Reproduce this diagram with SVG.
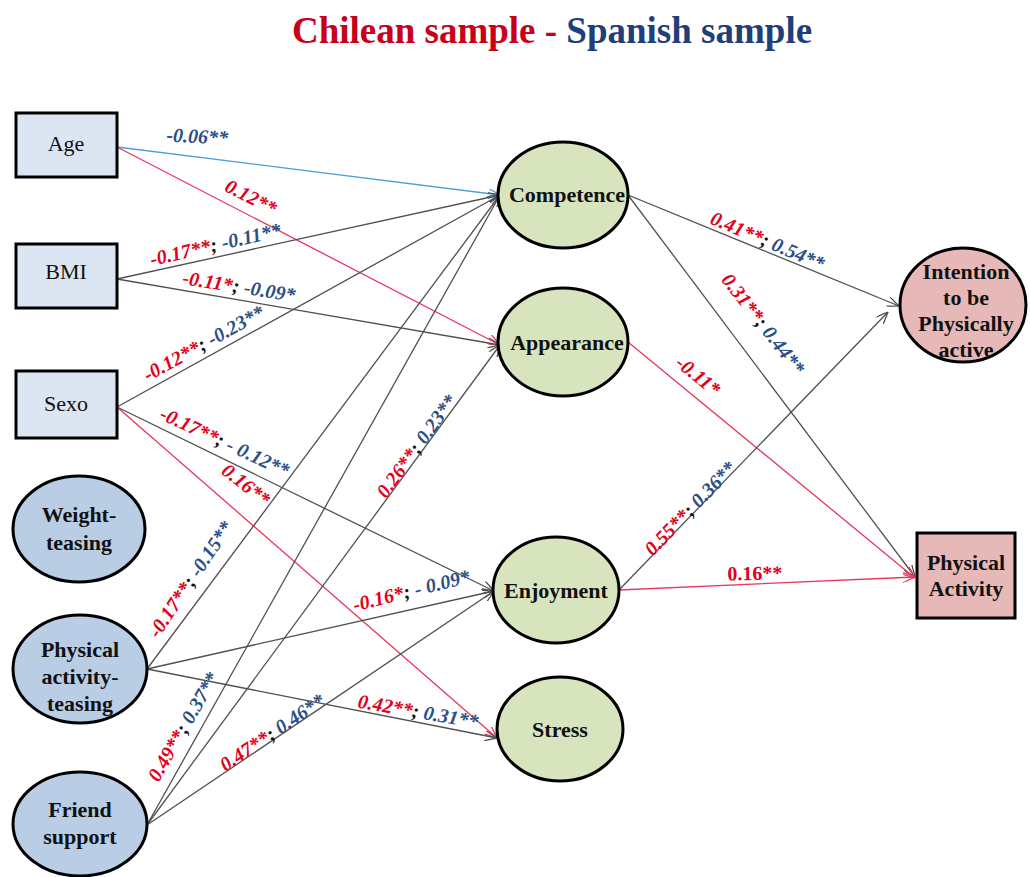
<svg xmlns="http://www.w3.org/2000/svg" width="1030" height="877" viewBox="0 0 1030 877">
<defs>
<marker id="ag" viewBox="0 0 12 10" refX="12" refY="5" markerWidth="12" markerHeight="10" markerUnits="userSpaceOnUse" orient="auto"><path d="M0,0 L12,5 L0,10" fill="none" stroke="#505050" stroke-width="1.3"/></marker>
<marker id="ar" viewBox="0 0 12 10" refX="12" refY="5" markerWidth="12" markerHeight="10" markerUnits="userSpaceOnUse" orient="auto"><path d="M0,0 L12,5 L0,10" fill="none" stroke="#e8365d" stroke-width="1.3"/></marker>
<marker id="ab" viewBox="0 0 12 10" refX="12" refY="5" markerWidth="12" markerHeight="10" markerUnits="userSpaceOnUse" orient="auto"><path d="M0,0 L12,5 L0,10" fill="none" stroke="#4aa0dc" stroke-width="1.3"/></marker>
</defs>
<style>
.box{fill:#dce6f2;stroke:#000;stroke-width:3}
.lel{fill:#b9cde5;stroke:#000;stroke-width:3}
.mel{fill:#d7e4bd;stroke:#000;stroke-width:3}
.pel{fill:#e6b9b8;stroke:#000;stroke-width:3}
.nt{font-family:"Liberation Serif","DejaVu Serif",serif;font-size:22px;fill:#111;text-anchor:middle}
.nb{font-weight:bold}
.g{stroke:#505050;stroke-width:1.3;fill:none;marker-end:url(#ag)}
.r{stroke:#e8365d;stroke-width:1.3;fill:none;marker-end:url(#ar)}
.b{stroke:#4aa0dc;stroke-width:1.3;fill:none;marker-end:url(#ab)}
.el{font-family:"Liberation Serif","DejaVu Serif",serif;font-size:20px;font-weight:bold;font-style:italic;text-anchor:middle}
.rt{fill:#e2001a}
.bt{fill:#2b4f87}
.kt{fill:#111}
.title{font-family:"Liberation Serif","DejaVu Serif",serif;font-size:37px;font-weight:bold;text-anchor:middle}
</style>
<rect width="1030" height="877" fill="#fff"/>
<text class="title" x="552" y="43"><tspan fill="#c8001a">Chilean sample</tspan><tspan fill="#c8001a"> - </tspan><tspan fill="#1f3f7a">Spanish sample</tspan></text>

<g id="connectors">
<line class="b" x1="117" y1="147" x2="500" y2="195"/>
<line class="r" x1="117" y1="147" x2="500" y2="345"/>
<line class="g" x1="117" y1="279" x2="500" y2="195"/>
<line class="g" x1="117" y1="279" x2="500" y2="345"/>
<line class="g" x1="117" y1="407" x2="500" y2="195"/>
<line class="g" x1="117" y1="407" x2="494" y2="591"/>
<line class="r" x1="117" y1="407" x2="497" y2="738"/>
<line class="g" x1="147" y1="669" x2="500" y2="195"/>
<line class="g" x1="147" y1="669" x2="494" y2="591"/>
<line class="g" x1="147" y1="669" x2="497" y2="738"/>
<line class="g" x1="147" y1="825" x2="500" y2="195"/>
<line class="g" x1="147" y1="825" x2="500" y2="345"/>
<line class="g" x1="147" y1="825" x2="494" y2="591"/>
<line class="g" x1="628" y1="195" x2="899" y2="306"/>
<line class="g" x1="628" y1="195" x2="915" y2="577"/>
<line class="r" x1="628" y1="342" x2="915" y2="578"/>
<line class="g" x1="619" y1="590" x2="888" y2="312"/>
<line class="r" x1="619" y1="590" x2="915" y2="577"/>

<text class="el bt" transform="translate(197,143) rotate(3)">-0.06**</text>
<text class="el rt" transform="translate(248,203) rotate(27)">0.12**</text>
<text class="el" transform="translate(217,251) rotate(-13)"><tspan class="rt">-0.17**</tspan><tspan class="kt">; </tspan><tspan class="bt">-0.11**</tspan></text>
<text class="el" transform="translate(238,293) rotate(9)"><tspan class="rt">-0.11*</tspan><tspan class="kt">; </tspan><tspan class="bt">-0.09*</tspan></text>
<text class="el" transform="translate(207,349) rotate(-29)"><tspan class="rt">-0.12**</tspan><tspan class="kt">; </tspan><tspan class="bt">-0.23**</tspan></text>
<text class="el" transform="translate(222,448) rotate(25)"><tspan class="rt">-0.17**</tspan><tspan class="kt">; </tspan><tspan class="bt">- 0.12**</tspan></text>
<text class="el rt" transform="translate(242,490) rotate(38)">0.16**</text>
<text class="el" transform="translate(196,583) rotate(-56)"><tspan class="rt">-0.17**</tspan><tspan class="kt">; </tspan><tspan class="bt">-0.15**</tspan></text>
<text class="el" transform="translate(413,597) rotate(-14)"><tspan class="rt">-0.16*</tspan><tspan class="kt">; </tspan><tspan class="bt">- 0.09*</tspan></text>
<text class="el" transform="translate(417,718) rotate(10)"><tspan class="rt">0.42**</tspan><tspan class="kt">; </tspan><tspan class="bt">0.31**</tspan></text>
<text class="el" transform="translate(189,730) rotate(-60)"><tspan class="rt">0.49**</tspan><tspan class="kt">; </tspan><tspan class="bt">0.37**</tspan></text>
<text class="el" transform="translate(276,738) rotate(-34)"><tspan class="rt">0.47**</tspan><tspan class="kt">; </tspan><tspan class="bt">0.46**</tspan></text>
<text class="el" transform="translate(422,450) rotate(-54)"><tspan class="rt">0.26**</tspan><tspan class="kt">; </tspan><tspan class="bt">0.23**</tspan></text>
<text class="el" transform="translate(765,247) rotate(23)"><tspan class="rt">0.41**</tspan><tspan class="kt">; </tspan><tspan class="bt">0.54**</tspan></text>
<text class="el" transform="translate(758,328) rotate(52)"><tspan class="rt">0.31**</tspan><tspan class="kt">; </tspan><tspan class="bt">0.44**</tspan></text>
<text class="el rt" transform="translate(694,381) rotate(39)">-0.11*</text>
<text class="el" transform="translate(695,513) rotate(-46)"><tspan class="rt">0.55**</tspan><tspan class="kt">; </tspan><tspan class="bt">0.36**</tspan></text>
<text class="el rt" style="font-style:normal" transform="translate(755,580) rotate(-1)">0.16**</text>
</g>

<g id="age"><rect class="box" x="16" y="113" width="101" height="64"/><text class="nt" x="66" y="151">Age</text></g>
<g id="bmi"><rect class="box" x="16" y="244" width="101" height="64"/><text class="nt" x="66" y="279">BMI</text></g>
<g id="sexo"><rect class="box" x="16" y="371" width="101" height="67"/><text class="nt" x="66" y="411">Sexo</text></g>
<g id="weight-teasing"><ellipse class="lel" cx="79" cy="529" rx="66" ry="53"/><text class="nt nb" x="79" y="522">Weight-</text><text class="nt nb" x="79" y="550">teasing</text></g>
<g id="pa-teasing"><ellipse class="lel" cx="80" cy="669" rx="67" ry="54"/><text class="nt nb" x="80" y="657">Physical</text><text class="nt nb" x="80" y="684">activity-</text><text class="nt nb" x="80" y="711">teasing</text></g>
<g id="friend-support"><ellipse class="lel" cx="80" cy="824" rx="67" ry="52"/><text class="nt nb" x="80" y="817">Friend</text><text class="nt nb" x="80" y="844">support</text></g>
<g id="competence"><ellipse class="mel" cx="563" cy="195" rx="65" ry="53"/><text class="nt nb" x="567" y="202">Competence</text></g>
<g id="appearance"><ellipse class="mel" cx="563" cy="342" rx="65" ry="54"/><text class="nt nb" x="567" y="350">Appearance</text></g>
<g id="enjoyment"><ellipse class="mel" cx="556" cy="590" rx="63" ry="53"/><text class="nt nb" x="556" y="598">Enjoyment</text></g>
<g id="stress"><ellipse class="mel" cx="560" cy="729" rx="63" ry="52"/><text class="nt nb" x="560" y="737">Stress</text></g>
<g id="intention"><ellipse class="pel" cx="963" cy="305" rx="63" ry="57"/><text class="nt nb" x="966" y="279">Intention</text><text class="nt nb" x="966" y="305">to be</text><text class="nt nb" x="966" y="331">Physically</text><text class="nt nb" x="966" y="357">active</text></g>
<g id="physical-activity"><rect class="pel" x="917" y="533" width="98" height="85"/><text class="nt nb" x="966" y="570">Physical</text><text class="nt nb" x="966" y="596">Activity</text></g>
</svg>
